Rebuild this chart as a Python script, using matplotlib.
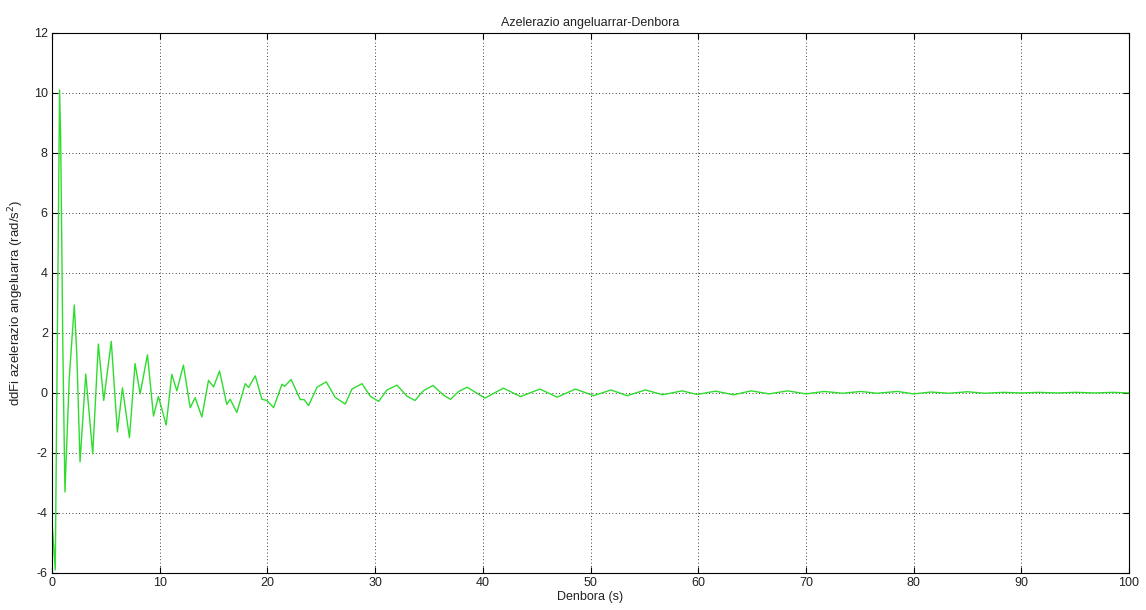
import matplotlib
matplotlib.use("Agg")
import matplotlib.pyplot as plt
import numpy as np

# values (peaks, troughs and kinks)
t = [0.0, 0.3, 0.7, 0.8, 0.9, 1.0, 1.2, 1.6, 2.07, 2.3, 2.6, 3.13, 3.78, 4.3, 4.8,
     5.5, 6.07, 6.54, 7.19, 7.71, 8.18, 8.86, 9.42, 9.88, 10.6, 11.12, 11.59, 12.2,
     12.83, 13.29, 13.91, 14.53, 15.0, 15.55, 16.23, 16.54, 17.16, 17.94, 18.25,
     18.87, 19.49, 19.95, 20.57, 21.35, 21.6, 22.2, 23.05, 23.4, 23.82, 24.6, 25.46,
     26.3, 27.23, 27.85, 28.78, 29.55, 30.33, 31.1, 32.03, 32.96, 33.7, 34.5, 35.38,
     36.37, 37.0, 37.76, 38.54, 40.2, 41.9, 43.5, 45.3, 46.9, 48.6, 50.3, 51.9, 53.4,
     55.1, 56.7, 58.5, 59.9, 61.6, 63.3, 64.9, 66.6, 68.3, 70.0, 71.7, 73.4, 75.1,
     76.6, 78.5, 80.0, 81.6, 83.3, 85.0, 86.6, 88.3, 90.0, 91.6, 93.3, 95.1, 96.8,
     98.5, 100.0]
ddfi = [-4.3, -5.9, 10.1, 8.5, 5.2, 1.6, -3.3, 0.5, 2.93, 1.3, -2.3, 0.63, -2.03, 1.63, -0.25,
        1.72, -1.3, 0.17, -1.49, 0.98, -0.03, 1.27, -0.77, -0.12, -1.07, 0.62, 0.07, 0.93,
        -0.49, -0.16, -0.8, 0.42, 0.2, 0.73, -0.38, -0.21, -0.65, 0.31, 0.18,
        0.57, -0.21, -0.25, -0.49, 0.29, 0.22, 0.45, -0.22, -0.22, -0.42, 0.19, 0.37,
        -0.15, -0.37, 0.13, 0.31, -0.11, -0.28, 0.1, 0.26, -0.11, -0.25, 0.08, 0.25,
        -0.08, -0.21, 0.05, 0.19, -0.17, 0.16, -0.12, 0.13, -0.14, 0.13, -0.09, 0.1, -0.09,
        0.1, -0.06, 0.07, -0.05, 0.06, -0.06, 0.07, -0.03, 0.07, -0.03, 0.05, -0.01, 0.05,
        -0.01, 0.05, -0.03, 0.03, -0.01, 0.04, -0.01, 0.02, 0.0, 0.02, 0.0, 0.02, 0.0,
        0.02, 0.0]

plt.rcParams['font.family'] = ['Liberation Sans', 'DejaVu Sans']
plt.rcParams['axes.unicode_minus'] = False

fig = plt.figure(figsize=(11.46, 6.10), dpi=100)
ax = fig.add_axes([0.0454, 0.0607, 0.9398, 0.8853])
ax.plot(t, ddfi, color='#2edc2e', lw=1, solid_joinstyle='round')

ax.set_xlim(0, 100)
ax.set_ylim(-6, 12)
ax.set_xticks(np.arange(0, 101, 10))
ax.set_yticks(np.arange(-6, 13, 2))
ax.grid(True, color='black', linestyle=(0, (1, 3)), linewidth=0.6)
ax.tick_params(direction='in', top=True, right=True, labelsize=9, length=4, pad=3,
               labelcolor='#222222')
for s in ax.spines.values():
    s.set_linewidth(0.8)

ax.set_title('Azelerazio angeluarrar-Denbora', fontsize=9, pad=5, color='#222222')
ax.set_xlabel('Denbora (s)', fontsize=9, labelpad=1, color='#222222')
ax.set_ylabel('ddFi azelerazio angeluarra (rad/s$^2$)', fontsize=9.5, labelpad=6,
              color='#222222')

fig.savefig('out.png', dpi=100)
